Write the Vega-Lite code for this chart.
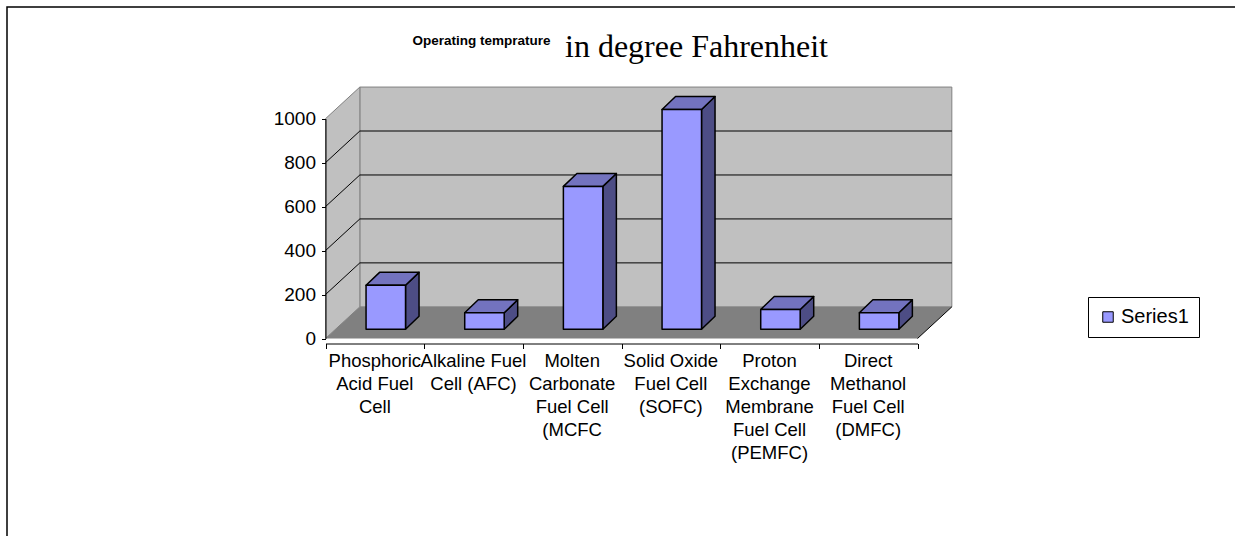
{
  "$schema": "https://vega.github.io/schema/vega-lite/v6.json",
  "width": 1233,
  "height": 534,
  "autosize": {"type": "none"},
  "padding": {"left": 7, "top": 7, "right": -5, "bottom": -5},
  "background": "white",
  "config": {
    "view": {"stroke": "black", "strokeWidth": 1.5},
    "font": "Liberation Sans"
  },
  "title": {
    "text": "in degree Fahrenheit",
    "anchor": "start",
    "frame": "group",
    "orient": "top",
    "offset": 0,
    "baseline": "alphabetic",
    "dx": 558,
    "dy": 82,
    "font": "Liberation Serif",
    "fontSize": 32,
    "fontWeight": "normal",
    "color": "black"
  },
  "datasets": {
    "fuel": [
      {"category": "Phosphoric Acid Fuel Cell", "label": "Phosphoric\nAcid Fuel\nCell", "value": 200, "series": "Series1"},
      {"category": "Alkaline Fuel Cell (AFC)", "label": "Alkaline Fuel\nCell (AFC)", "value": 75, "series": "Series1"},
      {"category": "Molten Carbonate Fuel Cell (MCFC", "label": "Molten\nCarbonate\nFuel Cell\n(MCFC", "value": 650, "series": "Series1"},
      {"category": "Solid Oxide Fuel Cell (SOFC)", "label": "Solid Oxide\nFuel Cell\n(SOFC)", "value": 1000, "series": "Series1"},
      {"category": "Proton Exchange Membrane Fuel Cell (PEMFC)", "label": "Proton\nExchange\nMembrane\nFuel Cell\n(PEMFC)", "value": 90, "series": "Series1"},
      {"category": "Direct Methanol Fuel Cell (DMFC)", "label": "Direct\nMethanol\nFuel Cell\n(DMFC)", "value": 75, "series": "Series1"}
    ],
    "depth": [{"d": 0}, {"d": 1}],
    "grid": [{"v": 200}, {"v": 400}, {"v": 600}, {"v": 800}]
  },
  "resolve": {"axis": {"x": "independent", "y": "independent"}},
  "layer": [
    {
      "data": {"values": [{}]},
      "mark": {"type": "rect", "fill": "#C0C0C0", "stroke": "#808080", "strokeWidth": 1},
      "encoding": {
        "x": {"datum": 0.348, "type": "quantitative", "axis": null},
        "x2": {"datum": 6.348},
        "y": {"datum": 144, "type": "quantitative", "axis": null},
        "y2": {"datum": 1144}
      }
    },
    {
      "data": {"name": "depth"},
      "transform": [
        {"calculate": "datum.d * 0.348", "as": "wx"},
        {"calculate": "datum.d * 144", "as": "wy"},
        {"calculate": "1000 + datum.d * 144", "as": "wy2"}
      ],
      "mark": {"type": "area", "orient": "vertical", "fill": "#C0C0C0", "stroke": "#808080", "strokeWidth": 1},
      "encoding": {
        "x": {"field": "wx", "type": "quantitative", "axis": null},
        "y": {"field": "wy", "type": "quantitative", "axis": null, "stack": null},
        "y2": {"field": "wy2"}
      }
    },
    {
      "data": {"name": "depth"},
      "transform": [
        {"calculate": "datum.d * 144", "as": "fy"},
        {"calculate": "datum.d * 0.348", "as": "fx"},
        {"calculate": "6 + datum.d * 0.348", "as": "fx2"}
      ],
      "mark": {"type": "area", "orient": "horizontal", "fill": "#808080"},
      "encoding": {
        "y": {"field": "fy", "type": "quantitative", "axis": null},
        "x": {"field": "fx", "type": "quantitative", "axis": null, "stack": null},
        "x2": {"field": "fx2"}
      }
    },
    {
      "data": {"values": [{}]},
      "mark": {"type": "rule", "stroke": "black", "strokeWidth": 1},
      "encoding": {
        "x": {"datum": 6, "type": "quantitative", "axis": null},
        "x2": {"datum": 6.348},
        "y": {"datum": 0, "type": "quantitative", "axis": null},
        "y2": {"datum": 144}
      }
    },
    {
      "data": {"name": "grid"},
      "transform": [{"calculate": "datum.v + 144", "as": "gy"}],
      "mark": {"type": "rule", "stroke": "black", "strokeWidth": 1},
      "encoding": {
        "x": {"datum": 0.348, "type": "quantitative", "axis": null},
        "x2": {"datum": 6.348},
        "y": {"field": "gy", "type": "quantitative", "axis": null}
      }
    },
    {
      "data": {"name": "grid"},
      "transform": [{"calculate": "datum.v + 144", "as": "gy2"}],
      "mark": {"type": "rule", "stroke": "black", "strokeWidth": 1},
      "encoding": {
        "x": {"datum": 0, "type": "quantitative", "axis": null},
        "x2": {"datum": 0.348},
        "y": {"field": "v", "type": "quantitative", "axis": null},
        "y2": {"field": "gy2"}
      }
    },
    {
      "data": {"name": "fuel"},
      "transform": [
        {"window": [{"op": "row_number", "as": "rn"}]},
        {"calculate": "datum.rn - 0.5 + 0.111", "as": "c"},
        {"calculate": "[0, 1]", "as": "d"},
        {"flatten": ["d"]},
        {"calculate": "datum.c + 0.2 + datum.d * 0.137", "as": "sx"},
        {"calculate": "42 + datum.d * 59", "as": "sy"},
        {"calculate": "42 + datum.value + datum.d * 59", "as": "sy2"}
      ],
      "mark": {"type": "area", "orient": "vertical", "fill": "#4D4D85", "stroke": "black", "strokeWidth": 1.5, "strokeJoin": "round"},
      "encoding": {
        "x": {"field": "sx", "type": "quantitative", "axis": null},
        "y": {"field": "sy", "type": "quantitative", "axis": null, "stack": null},
        "y2": {"field": "sy2"},
        "detail": {"field": "category"}
      }
    },
    {
      "data": {"name": "fuel"},
      "transform": [
        {"window": [{"op": "row_number", "as": "rn"}]},
        {"calculate": "datum.rn - 0.5 + 0.111", "as": "c"},
        {"calculate": "[0, 1]", "as": "d"},
        {"flatten": ["d"]},
        {"calculate": "datum.c - 0.2 + datum.d * 0.137", "as": "tx0"},
        {"calculate": "datum.c + 0.2 + datum.d * 0.137", "as": "tx1"},
        {"calculate": "42 + datum.value + datum.d * 59", "as": "ty"}
      ],
      "mark": {"type": "area", "orient": "horizontal", "fill": "#7373BF", "stroke": "black", "strokeWidth": 1.5, "strokeJoin": "round"},
      "encoding": {
        "y": {"field": "ty", "type": "quantitative", "axis": null},
        "x": {"field": "tx0", "type": "quantitative", "axis": null, "stack": null},
        "x2": {"field": "tx1"},
        "detail": {"field": "category"}
      }
    },
    {
      "data": {"name": "fuel"},
      "transform": [
        {"window": [{"op": "row_number", "as": "rn"}]},
        {"calculate": "datum.rn - 0.5 + 0.111", "as": "c"},
        {"calculate": "datum.c - 0.2", "as": "x0"},
        {"calculate": "datum.c + 0.2", "as": "x1"},
        {"calculate": "42", "as": "yb"},
        {"calculate": "42 + datum.value", "as": "yt"}
      ],
      "mark": {"type": "rect", "stroke": "black", "strokeWidth": 1.5, "strokeJoin": "round"},
      "encoding": {
        "x": {
          "field": "x0", "type": "quantitative",
          "scale": {"domain": [0, 6], "range": [318.5, 910.5], "nice": false, "zero": false},
          "axis": {
            "orient": "bottom", "offset": -197.5, "values": [0, 1, 2, 3, 4, 5, 6],
            "labels": false, "ticks": true, "tickSize": 5, "tickColor": "black", "tickWidth": 1,
            "domainColor": "black", "domainWidth": 1, "grid": false, "title": null, "zindex": 1
          }
        },
        "x2": {"field": "x1"},
        "y": {
          "field": "yb", "type": "quantitative",
          "scale": {"domain": [0, 1000], "range": [331.5, 111.7], "nice": false, "zero": false},
          "axis": {
            "orient": "left", "offset": -318.5, "values": [0, 200, 400, 600, 800, 1000], "format": "d",
            "tickSize": 4, "tickColor": "black", "tickWidth": 1, "domainColor": "black", "domainWidth": 1,
            "grid": false, "labelFontSize": 19, "labelColor": "black", "labelPadding": 6,
            "labelFont": "Liberation Sans", "labelFlush": false, "labelOverlap": false,
            "title": "Operating temprature", "titleAngle": 0, "titleX": 86.5, "titleY": 37,
            "titleAlign": "left", "titleBaseline": "alphabetic", "titleFont": "Liberation Sans",
            "titleFontSize": 13.5, "titleFontWeight": "bold", "titleColor": "black", "zindex": 1
          }
        },
        "y2": {"field": "yt"},
        "color": {
          "field": "series", "type": "nominal",
          "scale": {"domain": ["Series1"], "range": ["#9999FF"]},
          "legend": {
            "title": null, "orient": "none", "legendX": 1081, "legendY": 290,
            "strokeColor": "black", "fillColor": "white", "padding": 10,
            "symbolType": "square", "symbolSize": 110, "symbolStrokeColor": "black", "symbolStrokeWidth": 1,
            "labelFontSize": 20, "labelFont": "Liberation Sans", "labelColor": "black", "labelOffset": 3
          }
        }
      }
    },
    {
      "data": {"name": "fuel"},
      "transform": [
        {"window": [{"op": "row_number", "as": "rn"}]},
        {"calculate": "datum.rn - 0.5", "as": "lc"}
      ],
      "mark": {"type": "text", "baseline": "top", "align": "center", "dy": 13, "fontSize": 18.5, "lineBreak": "\n", "lineHeight": 23, "color": "black", "font": "Liberation Sans"},
      "encoding": {
        "x": {"field": "lc", "type": "quantitative", "axis": null},
        "y": {"datum": 0, "type": "quantitative", "axis": null},
        "text": {"field": "label"}
      }
    }
  ]
}
